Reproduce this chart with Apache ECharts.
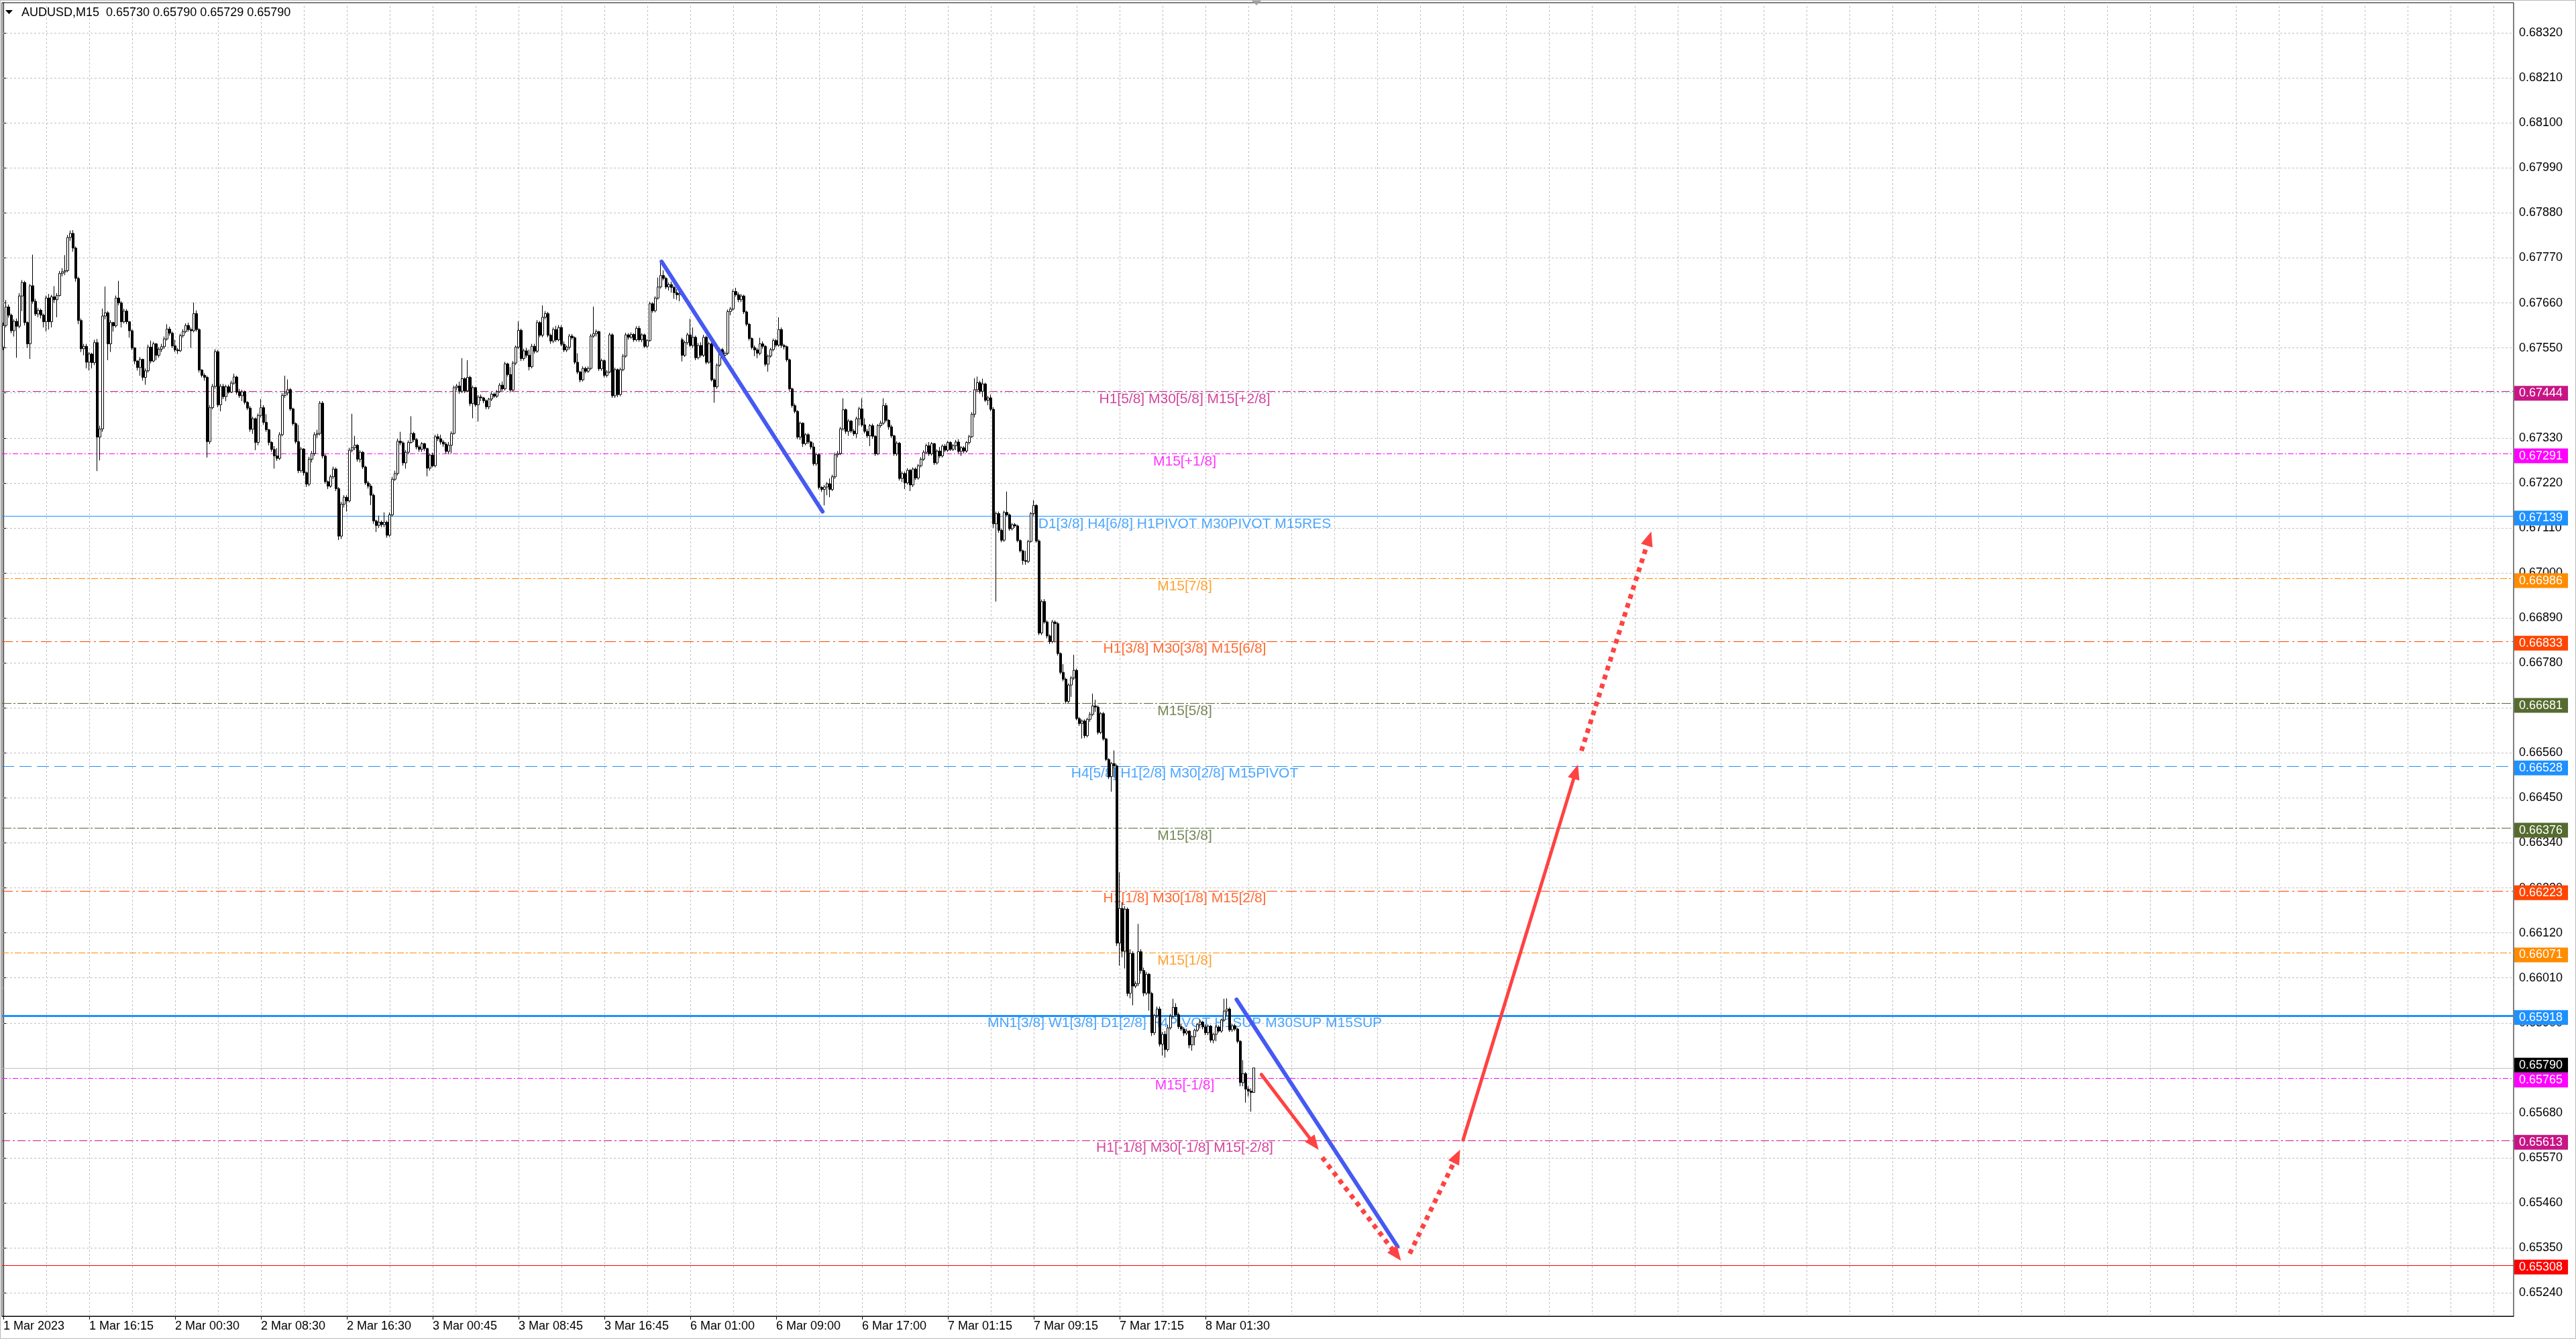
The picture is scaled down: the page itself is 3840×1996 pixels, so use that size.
<!DOCTYPE html>
<html><head><meta charset="utf-8">
<script src="https://cdn.jsdelivr.net/npm/echarts@6/dist/echarts.min.js"></script>
<style>html,body{margin:0;padding:0;background:#fff}#c{width:3840px;height:1996px}</style>
</head><body><div id="c"></div>
<script>
// ---------------- DATA ----------------
const SYMBOL_TITLE = 'AUDUSD,M15  0.65730 0.65790 0.65729 0.65790';
const X_LABELS = ['1 Mar 2023','1 Mar 16:15','2 Mar 00:30','2 Mar 08:30','2 Mar 16:30','3 Mar 00:45','3 Mar 08:45','3 Mar 16:45','6 Mar 01:00','6 Mar 09:00','6 Mar 17:00','7 Mar 01:15','7 Mar 09:15','7 Mar 17:15','8 Mar 01:30'];
const BARS_PER_LABEL = 32;
const TOTAL_SLOTS = 936;           // visible bar slots incl. empty future space
const Y_MIN = 0.65183, Y_MAX = 0.68394;
const Y_TICKS = [0.65240,0.65350,0.65460,0.65570,0.65680,0.65790,0.65900,0.66010,0.66120,0.66230,0.66340,0.66450,0.66560,0.66670,0.66780,0.66890,0.67000,0.67110,0.67220,0.67330,0.67440,0.67550,0.67660,0.67770,0.67880,0.67990,0.68100,0.68210,0.68320];

// M15 bars, [open, high, low, close] in points (1e-5)
const BARS_A = [
[67552,67612,67545,67605],[67605,67667,67600,67650],[67650,67656,67624,67630],[67630,67634,67586,67592],[67592,67620,67578,67615],
[67615,67622,67526,67603],[67603,67684,67598,67677],[67677,67716,67640,67710],[67710,67714,67605,67612],[67612,67615,67550,67560],
[67560,67706,67523,67702],[67702,67778,67658,67664],[67664,67670,67628,67633],[67633,67648,67625,67642],[67642,67646,67622,67630],
[67630,67634,67600,67614],[67614,67678,67590,67672],[67672,67682,67595,67614],[67614,67680,67600,67675],[67675,67701,67660,67668],
[67668,67684,67625,67678],[67678,67738,67676,67732],[67732,67745,67725,67736],[67736,67777,67728,67739],[67739,67826,67735,67820],
[67820,67837,67812,67830],[67830,67838,67785,67794],[67794,67798,67712,67720],[67720,67724,67608,67617],[67617,67622,67540,67548],
[67548,67560,67532,67554],[67554,67560,67500,67515],[67515,67540,67495,67535],[67535,67538,67500,67514],[67514,67570,67508,67563],
[67563,67572,67249,67332],[67332,67360,67275,67352],[67352,67646,67345,67628],[67628,67700,67620,67636],[67636,67640,67520,67560],
[67560,67618,67540,67612],[67612,67614,67590,67604],[67604,67678,67600,67672],[67672,67714,67654,67660],[67660,67664,67600,67614],
[67614,67646,67610,67640],[67640,67645,67608,67614],[67614,67616,67575,67592],[67592,67595,67545,67550],[67550,67552,67510,67518],
[67518,67520,67495,67502],[67502,67528,67482,67522],[67522,67524,67470,67478],[67478,67500,67460,67494],[67494,67558,67490,67552],
[67552,67568,67512,67518],[67518,67565,67515,67560],[67560,67562,67520,67532],[67532,67552,67526,67547],[67547,67560,67540,67553],
[67553,67578,67548,67572],[67572,67608,67568,67596],[67596,67602,67580,67586],[67586,67590,67550,67555],[67555,67570,67540,67545],
[67545,67550,67535,67543],[67543,67585,67540,67580],[67580,67596,67575,67590],[67590,67610,67586,67605],[67605,67612,67590,67595],
[67595,67600,67550,67592],[67592,67661,67588,67634],[67634,67642,67590,67595],[67595,67598,67490,67496],[67496,67498,67478,67483],
[67483,67488,67470,67478],[67478,67482,67282,67321],[67321,67410,67315,67404],[67404,67462,67400,67456],[67456,67547,67450,67541],
[67541,67545,67405,67411],[67411,67462,67395,67456],[67456,67462,67425,67431],[67431,67460,67420,67455],[67455,67460,67438,67442],
[67442,67470,67440,67464],[67464,67487,67460,67479],[67479,67482,67436,67442],[67442,67450,67428,67433],[67433,67448,67420,67443],
[67443,67446,67412,67417],[67417,67420,67398,67403],[67403,67408,67345,67351],[67351,67382,67340,67377],[67377,67380,67300,67319],
[67319,67390,67312,67385],[67385,67425,67380,67404],[67404,67410,67362,67368],[67368,67388,67345,67350],[67350,67352,67312,67319]
];
const BARS_B = [
[67319,67322,67296,67302],[67302,67310,67255,67286],[67286,67305,67274,67280],[67280,67344,67276,67338],[67338,67440,67334,67434],
[67434,67482,67428,67440],[67440,67473,67434,67448],[67448,67452,67396,67401],[67401,67404,67360,67365],[67365,67368,67316,67321],
[67321,67362,67244,67250],[67250,67308,67245,67303],[67303,67305,67238,67245],[67245,67248,67210,67217],[67217,67284,67212,67278],
[67278,67298,67270,67292],[67292,67344,67286,67338],[67338,67350,67330,67341],[67341,67420,67336,67415],[67415,67420,67280,67286],
[67286,67290,67218,67223],[67223,67226,67205,67212],[67212,67240,67208,67235],[67235,67260,67230,67254],[67254,67258,67200,67206],
[67206,67210,67080,67090],[67090,67174,67083,67168],[67168,67190,67160,67185],[67185,67190,67150,67176],[67176,67306,67172,67300],
[67300,67389,67295,67306],[67306,67335,67300,67312],[67312,67315,67272,67278],[67278,67300,67270,67295],[67295,67298,67254,67259],
[67259,67262,67215,67220],[67220,67225,67206,67212],[67212,67218,67166,67190],[67190,67194,67120,67127],[67127,67130,67100,67116],
[67116,67140,67110,67124],[67124,67128,67112,67118],[67118,67148,67112,67124],[67124,67128,67086,67092],[67092,67148,67088,67142],
[67142,67235,67138,67229],[67229,67250,67225,67243],[67243,67328,67238,67322],[67322,67345,67312,67318],[67318,67322,67262,67269],
[67269,67300,67255,67295],[67295,67324,67290,67319],[67319,67383,67316,67341],[67341,67345,67320,67326],[67326,67330,67302,67308],
[67308,67312,67296,67302],[67302,67320,67296,67316],[67316,67318,67298,67304],[67304,67306,67236,67256],[67256,67292,67250,67288],
[67288,67294,67258,67262],[67262,67338,67258,67333],[67333,67340,67322,67328],[67328,67338,67314,67320],[67320,67325,67308,67315],
[67315,67320,67292,67297],[67297,67320,67290,67312],[67312,67346,67292,67341],[67341,67458,67338,67453],[67453,67462,67446,67457],
[67457,67468,67438,67444],[67444,67525,67440,67475],[67475,67478,67440,67445],[67445,67520,67442,67478],[67478,67482,67408,67414],
[67414,67458,67378,67453],[67453,67455,67406,67411],[67411,67435,67370,67430],[67430,67436,67420,67428],[67428,67430,67415,67421],
[67421,67424,67400,67406],[67406,67428,67400,67425],[67425,67442,67420,67437],[67437,67440,67428,67432],[67432,67447,67428,67443],
[67443,67464,67440,67459],[67459,67468,67445,67450],[67450,67516,67446,67511],[67511,67514,67480,67485],[67485,67503,67442,67447],
[67447,67518,67444,67513],[67513,67556,67508,67552],[67552,67615,67548,67593],[67593,67597,67518,67524],[67524,67548,67519,67543],
[67543,67550,67526,67532],[67532,67546,67495,67504],[67504,67560,67500,67554],[67554,67560,67536,67542],[67542,67618,67538,67612]
];
const BARS_C = [
[67612,67616,67576,67581],[67581,67654,67576,67625],[67625,67640,67620,67634],[67634,67638,67576,67581],[67581,67585,67560,67567],
[67567,67600,67562,67595],[67595,67604,67565,67570],[67570,67606,67566,67600],[67600,67605,67554,67559],[67559,67566,67540,67545],
[67545,67556,67540,67552],[67552,67584,67546,67579],[67579,67584,67570,67575],[67575,67578,67510,67515],[67515,67537,67486,67491],
[67491,67494,67466,67472],[67472,67505,67468,67500],[67500,67504,67488,67493],[67493,67505,67489,67500],[67500,67584,67496,67579],
[67579,67651,67575,67585],[67585,67595,67578,67590],[67590,67592,67494,67499],[67499,67524,67494,67519],[67519,67522,67478,67483],
[67483,67496,67478,67491],[67491,67587,67488,67582],[67582,67586,67428,67433],[67433,67502,67428,67497],[67497,67500,67430,67436],
[67436,67502,67432,67497],[67497,67535,67493,67530],[67530,67587,67526,67582],[67582,67586,67570,67576],[67576,67588,67572,67583],
[67583,67586,67565,67570],[67570,67603,67566,67598],[67598,67604,67565,67570],[67570,67586,67564,67582],[67582,67585,67550,67554],
[67554,67572,67550,67568],[67568,67663,67565,67658],[67658,67662,67636,67641],[67641,67676,67637,67672],[67672,67722,67668,67699],
[67699,67763,67695,67727],[67727,67740,67715,67720],[67720,67724,67694,67699],[67699,67710,67690,67705],[67705,67712,67685,67698],
[67698,67702,67670,67685],[67685,67694,67668,67680],[67680,67690,67664,67683],[67570,67575,67517,67532],[67532,67568,67528,67563],
[67563,67587,67558,67582],[67582,67621,67552,67556],[67556,67600,67550,67576],[67576,67580,67520,67526],[67526,67562,67522,67556],
[67556,67564,67527,67532],[67532,67582,67528,67576],[67576,67580,67510,67515],[67515,67565,67511,67560],[67560,67563,67468,67472],
[67472,67476,67416,67455],[67455,67512,67450,67508],[67508,67551,67504,67546],[67546,67550,67527,67532],[67532,67542,67526,67537],
[67537,67644,67533,67639],[67639,67650,67630,67645],[67645,67693,67641,67688],[67688,67697,67675,67680],[67680,67686,67662,67668],
[67668,67682,67662,67677],[67677,67680,67633,67638],[67638,67641,67603,67608],[67608,67611,67568,67573],[67573,67576,67546,67551],
[67551,67556,67530,67545],[67545,67550,67525,67537],[67537,67575,67532,67560],[67560,67566,67548,67554],[67554,67557,67505,67510],
[67510,67534,67492,67530],[67530,67550,67526,67546],[67546,67573,67542,67568],[67568,67572,67552,67557],[67557,67625,67553,67595],
[67595,67600,67550,67556],[67556,67560,67546,67553],[67553,67556,67516,67521],[67521,67524,67445,67450],[67450,67453,67404,67409],
[67409,67414,67390,67395],[67395,67398,67327,67332],[67332,67370,67325,67366],[67366,67368,67308,67316],[67316,67342,67312,67338]
];
const BARS_D = [
[67338,67342,67315,67320],[67320,67323,67302,67308],[67308,67318,67262,67267],[67267,67294,67262,67289],[67289,67292,67204,67209],
[67209,67212,67198,67204],[67204,67215,67165,67210],[67210,67222,67190,67218],[67218,67231,67185,67204],[67204,67240,67200,67235],
[67235,67294,67230,67289],[67289,67298,67282,67292],[67292,67357,67288,67352],[67352,67427,67348,67399],[67399,67402,67340,67346],
[67346,67376,67335,67371],[67371,67374,67342,67347],[67347,67352,67335,67340],[67340,67382,67330,67377],[67377,67406,67360,67401],
[67401,67427,67357,67362],[67362,67378,67341,67346],[67346,67352,67330,67335],[67335,67364,67310,67360],[67360,67365,67328,67334],
[67334,67337,67286,67291],[67291,67364,67288,67360],[67360,67372,67355,67366],[67366,67427,67362,67409],[67409,67415,67368,67373],
[67373,67376,67350,67357],[67357,67362,67330,67335],[67335,67338,67286,67291],[67291,67322,67286,67317],[67317,67320,67226,67231],
[67231,67248,67222,67243],[67243,67248,67205,67220],[67220,67256,67216,67251],[67251,67254,67200,67215],[67215,67258,67210,67254],
[67254,67258,67227,67232],[67232,67266,67228,67262],[67262,67283,67258,67278],[67278,67300,67274,67295],[67295,67316,67291,67311],
[67311,67320,67286,67291],[67291,67320,67287,67316],[67316,67318,67264,67269],[67269,67302,67265,67298],[67298,67308,67281,67286],
[67286,67314,67282,67310],[67310,67315,67295,67300],[67300,67323,67296,67319],[67319,67322,67298,67302],[67302,67315,67298,67311],
[67311,67325,67300,67320],[67320,67327,67292,67297],[67297,67310,67286,67306],[67306,67310,67292,67298],[67298,67322,67294,67319],
[67319,67338,67314,67333],[67333,67393,67330,67388],[67388,67476,67380,67448],[67448,67480,67443,67465],[67465,67470,67438,67444],
[67444,67475,67430,67462],[67462,67465,67418,67422],[67422,67433,67410,67428],[67428,67436,67395,67400],[67400,67405,67110,67120],
[67120,67150,66930,67145],[67145,67150,67098,67104],[67104,67108,67075,67080],[67080,67152,67076,67148],[67148,67199,67138,67142],
[67142,67145,67103,67108],[67108,67122,67104,67118],[67118,67122,67110,67115],[67115,67118,67075,67079],[67079,67082,67050,67054],
[67054,67057,67020,67030],[67030,67054,67020,67028],[67028,67081,67024,67077],[67077,67149,67074,67145],[67145,67178,67140,67165],
[67165,67168,67074,67078],[67078,67082,66848,66853],[66853,66935,66848,66930],[66930,66936,66876,66880],[66880,66884,66840,66846],
[66846,66850,66826,66832],[66832,66885,66828,66880],[66880,66884,66830,66876],[66876,66880,66798,66803],[66803,66806,66752,66757],
[66757,66777,66735,66740],[66740,66744,66680,66686],[66686,66730,66682,66726],[66726,66748,66697,66743],[66743,66800,66738,66762]
];
const BARS_E = [
[66762,66766,66640,66644],[66644,66648,66626,66632],[66632,66642,66595,66638],[66638,66642,66596,66602],[66602,66646,66598,66642],
[66642,66660,66636,66654],[66654,66705,66650,66675],[66675,66690,66660,66672],[66672,66676,66605,66610],[66610,66660,66606,66656],
[66656,66660,66590,66594],[66594,66597,66540,66544],[66544,66547,66496,66502],[66502,66538,66465,66534],[66534,66566,66500,66528],
[66528,66532,66088,66095],[66095,66268,66040,66180],[66180,66195,66060,66075],[66075,66185,66033,66178],[66178,66182,65965,65972],
[65972,66080,65960,66070],[66070,66075,65943,65990],[65990,66002,65985,65996],[65996,66142,65990,66074],[66074,66080,66020,66028],
[66028,66035,65965,65973],[65973,66025,65968,66019],[66019,66022,65930,65972],[65972,65976,65868,65876],[65876,65922,65870,65918],
[65918,65940,65912,65934],[65934,65940,65842,65848],[65848,65878,65820,65872],[65872,65880,65815,65835],[65835,65895,65830,65888],
[65888,65922,65884,65916],[65916,65959,65912,65938],[65938,65948,65915,65920],[65920,65925,65885,65891],[65891,65898,65880,65885],
[65885,65890,65868,65875],[65875,65886,65870,65880],[65880,65882,65838,65846],[65846,65870,65832,65866],[65866,65886,65845,65882],
[65882,65900,65878,65896],[65896,65908,65886,65902],[65902,65905,65884,65890],[65890,65896,65870,65876],[65876,65896,65870,65892],
[65892,65895,65852,65858],[65858,65876,65850,65872],[65872,65895,65855,65890],[65890,65894,65876,65880],[65880,65910,65876,65907],
[65907,65959,65903,65929],[65929,65960,65918,65934],[65934,65938,65878,65883],[65883,65898,65878,65893],[65893,65897,65880,65885],
[65885,65888,65850,65855],[65855,65858,65745,65754],[65754,65809,65745,65776],[65776,65780,65705,65738],[65738,65745,65720,65733],
[65733,65740,65683,65730],[65730,65790,65729,65790]
];

// Murrey-math style horizontal levels
const LEVEL_PRICES = [0.67444,0.67291,0.67139,0.66986,0.66833,0.66681,0.66528,0.66376,0.66223,0.66071,0.65918,0.65765,0.65613,0.65308];
const LEVEL_TEXTS = ['H1[5/8] M30[5/8] M15[+2/8]','M15[+1/8]','D1[3/8] H4[6/8] H1PIVOT M30PIVOT M15RES','M15[7/8]','H1[3/8] M30[3/8] M15[6/8]','M15[5/8]','H4[5/8] H1[2/8] M30[2/8] M15PIVOT','M15[3/8]','H1[1/8] M30[1/8] M15[2/8]','M15[1/8]','MN1[3/8] W1[3/8] D1[2/8] H4PIVOT H1SUP M30SUP M15SUP','M15[-1/8]','H1[-1/8] M30[-1/8] M15[-2/8]',''];
const LAST_PRICE = 0.65790;

// drawn trend lines / projection arrows: [barFrom, priceFrom, barTo, priceTo]
const TREND_BLUE = [[245.3,0.67761,305.3,0.67150],[459.6,0.65957,519.6,0.65353]];
const ARROWS_SOLID = [[468.8,0.65774,488.5,0.65604],[544.0,0.65614,586.0,0.66514]];
const ARROWS_DOTTED = [[491.5,0.65571,519.2,0.65333],[524.1,0.65336,541.7,0.65574],[588.1,0.66565,613.3,0.67084]];

// ---------------- RENDER ----------------
const FONT = 'Liberation Sans';
const BARS = [].concat(BARS_A, BARS_B, BARS_C, BARS_D, BARS_E);
const candleData = BARS.map(b => [b[0]/1e5, b[3]/1e5, b[2]/1e5, b[1]/1e5]);
const CATS = Array.from({length: TOTAL_SLOTS}, (_, i) => String(i));
const LABEL_X = 440.25;
const PLOT_H = 1996 - 4 - 34;
const PX = (Y_MAX - Y_MIN) / PLOT_H;   // price per pixel, to nudge the price boxes

const LEVEL_STYLES = [
  {color:'#C71585', type:[12,4,3,4], width:1},
  {color:'#FF00FF', type:[8,3,2,3], width:1},
  {color:'#1E90FF', type:'solid', width:1},
  {color:'#FF8C00', type:[10,3,3,3], width:1},
  {color:'#FF4500', type:[16,5,3,5], width:1},
  {color:'#556B2F', type:[14,3,3,3], width:1},
  {color:'#1E90FF', type:[18,8], width:1},
  {color:'#556B2F', type:[14,3,3,3], width:1},
  {color:'#FF4500', type:[16,5,3,5], width:1},
  {color:'#FF8C00', type:[10,3,3,3], width:1},
  {color:'#1E90FF', type:'solid', width:3},
  {color:'#FF00FF', type:[8,3,2,3], width:1},
  {color:'#C71585', type:[12,4,3,4], width:1},
  {color:'#FF0000', type:'solid', width:1}
];

const labelAt = (idx) => idx % BARS_PER_LABEL === 0 && idx / BARS_PER_LABEL < X_LABELS.length;

const vgrid = [];
for (let v = 16; v < TOTAL_SLOTS; v += 16) vgrid.push(v);

function boxLabel(p, bg) {
  return {show:true, position:'end', distance:1, formatter: p.toFixed(5), color:'#ffffff', opacity:1,
    backgroundColor: bg, padding:[3,8,1,7], fontFamily:FONT, fontSize:18, lineHeight:18};
}
const CLEAR = 'rgba(255,255,255,0)';

// visible level lines (no labels)
const levelLines = [{yAxis: LAST_PRICE, lineStyle:{color:'#C0C0C0', type:'solid', width:1}, label:{show:false}}];
LEVEL_PRICES.forEach((p, i) => levelLines.push({
  yAxis: p, label:{show:false},
  lineStyle: {color: LEVEL_STYLES[i].color, type: LEVEL_STYLES[i].type, width: LEVEL_STYLES[i].width}
}));
// transparent carriers for the price boxes on the right (nudged like the terminal does)
const boxLines = [{yAxis: LAST_PRICE + 4 * PX, lineStyle:{color:CLEAR, width:0}, label: boxLabel(LAST_PRICE, '#000000')}];
LEVEL_PRICES.forEach((p, i) => boxLines.push({yAxis: p - 3 * PX, lineStyle:{color:CLEAR, width:0}, label: boxLabel(p, LEVEL_STYLES[i].color)}));

const RED = '#FF4242', BLUE = '#4659F2';
function seg(s, style, arrow) {
  const a = {coord:[s[0], s[1]], lineStyle: style, symbol:'none'};
  const b = {coord:[s[2], s[3]], lineStyle: style, symbol: arrow ? 'triangle' : 'none', symbolSize:[18,22]};
  return [a, b];
}
const solidRed = {color:RED, width:5, type:'solid', cap:'round'};
const dotRed = {color:RED, width:7, type:[7,7], cap:'butt'};
const blueStyle = {color:BLUE, width:6, type:'solid', cap:'round'};

const chart = echarts.init(document.getElementById('c'), null, {renderer:'canvas'});
chart.setOption({
  animation:false,
  backgroundColor:'#ffffff',
  grid:{left:3, right:93, top:4, bottom:34, show:true, borderColor:'#000', borderWidth:1, backgroundColor:'#fff'},
  xAxis:[
    {type:'category', data:CATS, boundaryGap:true,
     axisLine:{show:true, lineStyle:{color:'#000', width:1}},
     axisTick:{show:true, alignWithLabel:true, interval:labelAt, length:5, lineStyle:{color:'#000'}},
     axisLabel:{show:true, interval:labelAt, formatter:(v, i) => X_LABELS[i / BARS_PER_LABEL] || '',
       align:'left', color:'#000', fontFamily:FONT, fontSize:18, margin:6},
     splitLine:{show:false}},
    {type:'value', min:-0.5, max:TOTAL_SLOTS - 0.5, show:false}
  ],
  yAxis:[{type:'value', position:'right', min:Y_MIN, max:Y_MAX, scale:true,
    axisLine:{show:true, lineStyle:{color:'#000'}},
    axisTick:{show:true, customValues:Y_TICKS, length:5, lineStyle:{color:'#000'}},
    axisLabel:{show:true, customValues:Y_TICKS, formatter:v => v.toFixed(5), color:'#000', fontFamily:FONT, fontSize:18, margin:8},
    splitLine:{show:false}}],
  series:[
    {name:'grid', type:'line', xAxisIndex:1, yAxisIndex:0, data:[], silent:true, z:1,
     markLine:{silent:true, z:1, precision:6, symbol:['none','none'], animation:false, label:{show:false},
       lineStyle:{color:'#C0C0C0', type:[3,3], width:1},
       emphasis:{disabled:true},
       data:[...vgrid.map(v => ({xAxis:v})), ...Y_TICKS.map(t => ({yAxis:t}))]}},
    {name:'levels', type:'line', xAxisIndex:1, yAxisIndex:0, data:[], silent:true, z:2,
     markLine:{silent:true, z:2, precision:6, symbol:['none','none'], animation:false, emphasis:{disabled:true}, data:levelLines}},
    {name:'priceBoxes', type:'line', xAxisIndex:1, yAxisIndex:0, data:[], silent:true, z:8,
     markLine:{silent:true, z:8, precision:7, symbol:['none','none'], animation:false, emphasis:{disabled:true}, data:boxLines}},
    {name:'levelText', type:'scatter', xAxisIndex:1, yAxisIndex:0, symbolSize:0, silent:true, z:2,
     label:{show:true, position:'bottom', distance:1, fontFamily:FONT, fontSize:21},
     emphasis:{disabled:true},
     data: LEVEL_PRICES.map((p, i) => ({value:[LABEL_X, p],
        label:{show: !!LEVEL_TEXTS[i], formatter: LEVEL_TEXTS[i] || ' ', color: LEVEL_STYLES[i].color}}))},
    {name:'AUDUSD', type:'candlestick', xAxisIndex:0, yAxisIndex:0, data:candleData, barWidth:3, z:4,
     silent:true,
     itemStyle:{color:'#ffffff', color0:'#000000', borderColor:'#000000', borderColor0:'#000000', borderWidth:1}},
    {name:'trendBlue', type:'line', xAxisIndex:1, yAxisIndex:0, data:[], silent:true, z:6,
     markLine:{silent:true, z:6, precision:6, symbol:['none','none'], animation:false, label:{show:false}, emphasis:{disabled:true},
       data: TREND_BLUE.map(s => seg(s, blueStyle, false))}},
    {name:'arrows', type:'line', xAxisIndex:1, yAxisIndex:0, data:[], silent:true, z:7,
     markLine:{silent:true, z:7, precision:6, symbol:['none','triangle'], animation:false, label:{show:false}, emphasis:{disabled:true},
       data: [...ARROWS_SOLID.map(s => seg(s, solidRed, true)), ...ARROWS_DOTTED.map(s => seg(s, dotRed, true))]}}
  ]
});

const shiftX = chart.convertToPixel({xAxisIndex:1}, TOTAL_SLOTS / 2 - 1);
chart.setOption({
  graphic:[
    {type:'rect', shape:{x:0.5, y:0.5, width:3839, height:1995}, style:{fill:'none', stroke:'#B8B8B8', lineWidth:1}, silent:true, z:100},
    {type:'polygon', shape:{points:[[8,15],[19,15],[13.5,21]]}, style:{fill:'#000'}, silent:true, z:100},
    {type:'text', left:32, top:10, style:{text:SYMBOL_TITLE, fontFamily:FONT, fontSize:18, fill:'#000'}, silent:true, z:100},
    {type:'polygon', shape:{points:[[shiftX-7,1],[shiftX+7,1],[shiftX,8]]}, style:{fill:'#A0A0A0'}, silent:true, z:100}
  ]
});
</script></body></html>
